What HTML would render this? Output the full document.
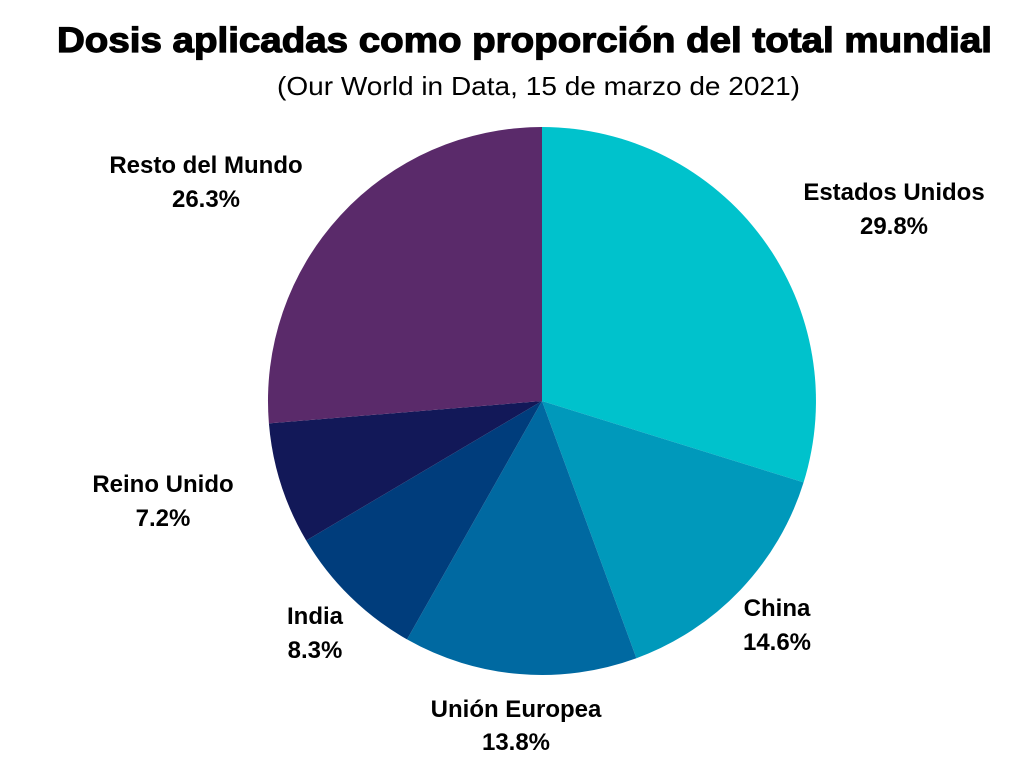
<!DOCTYPE html>
<html><head><meta charset="utf-8"><style>html,body{margin:0;padding:0;background:#fff}svg{display:block}</style></head>
<body>
<svg width="1024" height="768" viewBox="0 0 1024 768" xmlns="http://www.w3.org/2000/svg" font-family="Liberation Sans, DejaVu Sans, sans-serif">
<rect width="1024" height="768" fill="#fff"/>
<text x="57" y="52" font-size="35" font-weight="bold" textLength="935" lengthAdjust="spacingAndGlyphs" fill="#000" stroke="#000" stroke-width="1.2">Dosis aplicadas como proporción del total mundial</text>
<text x="277" y="95" font-size="26" textLength="523" lengthAdjust="spacingAndGlyphs" fill="#000">(Our World in Data, 15 de marzo de 2021)</text>
<g>
<path d="M542,401 L542,127 A274,274 0 0 1 803.6,482.4 Z" fill="#00c2cc"/>
<path d="M542,401 L803.6,482.4 A274,274 0 0 1 636.4,658.2 Z" fill="#0099bb"/>
<path d="M542,401 L636.4,658.2 A274,274 0 0 1 407.0,639.4 Z" fill="#0069a1"/>
<path d="M542,401 L407.0,639.4 A274,274 0 0 1 306.2,540.5 Z" fill="#003d7c"/>
<path d="M542,401 L306.2,540.5 A274,274 0 0 1 268.9,423.4 Z" fill="#121858"/>
<path d="M542,401 L268.9,423.4 A274,274 0 0 1 542,127 Z" fill="#5a2a6a"/>
</g>
<g font-size="24" font-weight="bold" fill="#000" text-anchor="middle">
<text x="894" y="200">Estados Unidos</text><text x="894" y="234">29.8%</text>
<text x="777" y="616">China</text><text x="777" y="650">14.6%</text>
<text x="516" y="717">Unión Europea</text><text x="516" y="750">13.8%</text>
<text x="315" y="624">India</text><text x="315" y="658">8.3%</text>
<text x="163" y="492">Reino Unido</text><text x="163" y="526">7.2%</text>
<text x="206" y="173">Resto del Mundo</text><text x="206" y="207">26.3%</text>
</g>
</svg>
</body></html>
